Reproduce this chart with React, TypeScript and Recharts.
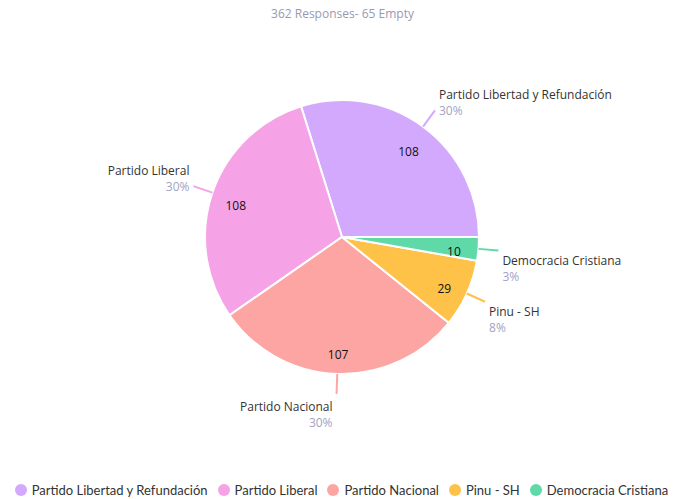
import React from "react";
import { PieChart, Pie, Cell, Legend } from "recharts";

const PARTIES = [
  "Partido Libertad y Refundación",
  "Partido Liberal",
  "Partido Nacional",
  "Pinu - SH",
  "Democracia Cristiana",
];
const VOTES = [108, 108, 107, 29, 10];
const PCT_LABELS = ["30%", "30%", "30%", "8%", "3%"];
const COLORS = ["#d3a9fd", "#f5a3e6", "#fda5a3", "#fdc247", "#5fd9a8"];

const TITLE = "362 Responses- 65 Empty";

const data = PARTIES.map((name, i) => ({ name, value: VOTES[i], pct: PCT_LABELS[i] }));

const RAD = Math.PI / 180;
const FONT = "'Open Sans', 'DejaVu Sans', sans-serif";

function renderLabel(props: any) {
  const { cx, cy, midAngle, outerRadius, index, value } = props;
  const cos = Math.cos(-midAngle * RAD);
  const sin = Math.sin(-midAngle * RAD);
  // valor dentro de la porción
  const ix = cx + outerRadius * 0.82 * cos;
  const iy = cy + outerRadius * 0.82 * sin;
  // línea hacia afuera
  const sx = cx + outerRadius * cos;
  const sy = cy + outerRadius * sin;
  const ex = cx + (outerRadius + 20) * cos;
  const ey = cy + (outerRadius + 20) * sin;
  const right = cos >= 0;
  const tx = ex + (right ? 4 : -4);
  const upper = sin < 0;
  const nameY = upper ? ey - 16 : ey + 10 + (sin > 0.9 ? 3 : 0);
  return (
    <g>
      <text x={ix} y={iy + 5} textAnchor="middle" dominantBaseline="central" fill="#111" fontSize={12} fontFamily={FONT}>
        {value}
      </text>
      <line x1={sx} y1={sy} x2={ex} y2={ey} stroke={COLORS[index]} strokeWidth={2} />
      <text x={tx} y={nameY} textAnchor={right ? "start" : "end"} dominantBaseline="central" fill="#333" fontSize={12} fontFamily={FONT}>
        {PARTIES[index]}
      </text>
      <text x={tx} y={nameY + 16} textAnchor={right ? "start" : "end"} dominantBaseline="central" fill="#a3a3c2" fontSize={12} fontFamily={FONT}>
        {PCT_LABELS[index]}
      </text>
    </g>
  );
}

function LegendContent() {
  return (
    <div style={{ display: "flex", justifyContent: "center", alignItems: "center", fontFamily: "Lato, sans-serif", fontSize: 13 }}>
      {PARTIES.map((name, i) => (
        <div key={name} style={{ display: "flex", alignItems: "center", marginRight: i < PARTIES.length - 1 ? 10 : 0 }}>
          <span style={{ width: 12, height: 12, borderRadius: 6, background: COLORS[i], display: "inline-block", marginRight: 5 }} />
          <span style={{ color: "#333" }}>{name}</span>
        </div>
      ))}
    </div>
  );
}

export default function App() {
  return (
    <div style={{ position: "absolute", left: 0, top: 0, width: 675, height: 499, background: "#fff" }}>
      <div
        style={{
          position: "absolute",
          top: 5,
          left: 0,
          width: 685,
          textAlign: "center",
          fontFamily: FONT,
          fontSize: 12,
          color: "#9a9ab0",
        }}
      >
        {TITLE}
      </div>
      <PieChart width={675} height={499} margin={{ top: 0, right: 0, bottom: 0, left: 0 }}>
        <Pie
          data={data}
          dataKey="value"
          nameKey="name"
          cx={342}
          cy={237}
          outerRadius={137}
          startAngle={0}
          endAngle={360}
          stroke="#fff"
          strokeWidth={2}
          label={renderLabel}
          labelLine={false}
          isAnimationActive={false}
        >
          {data.map((_, i) => (
            <Cell key={i} fill={COLORS[i]} />
          ))}
        </Pie>
        <Legend verticalAlign="bottom" align="center" wrapperStyle={{ bottom: 1, left: 4 }} content={LegendContent} />
      </PieChart>
    </div>
  );
}
